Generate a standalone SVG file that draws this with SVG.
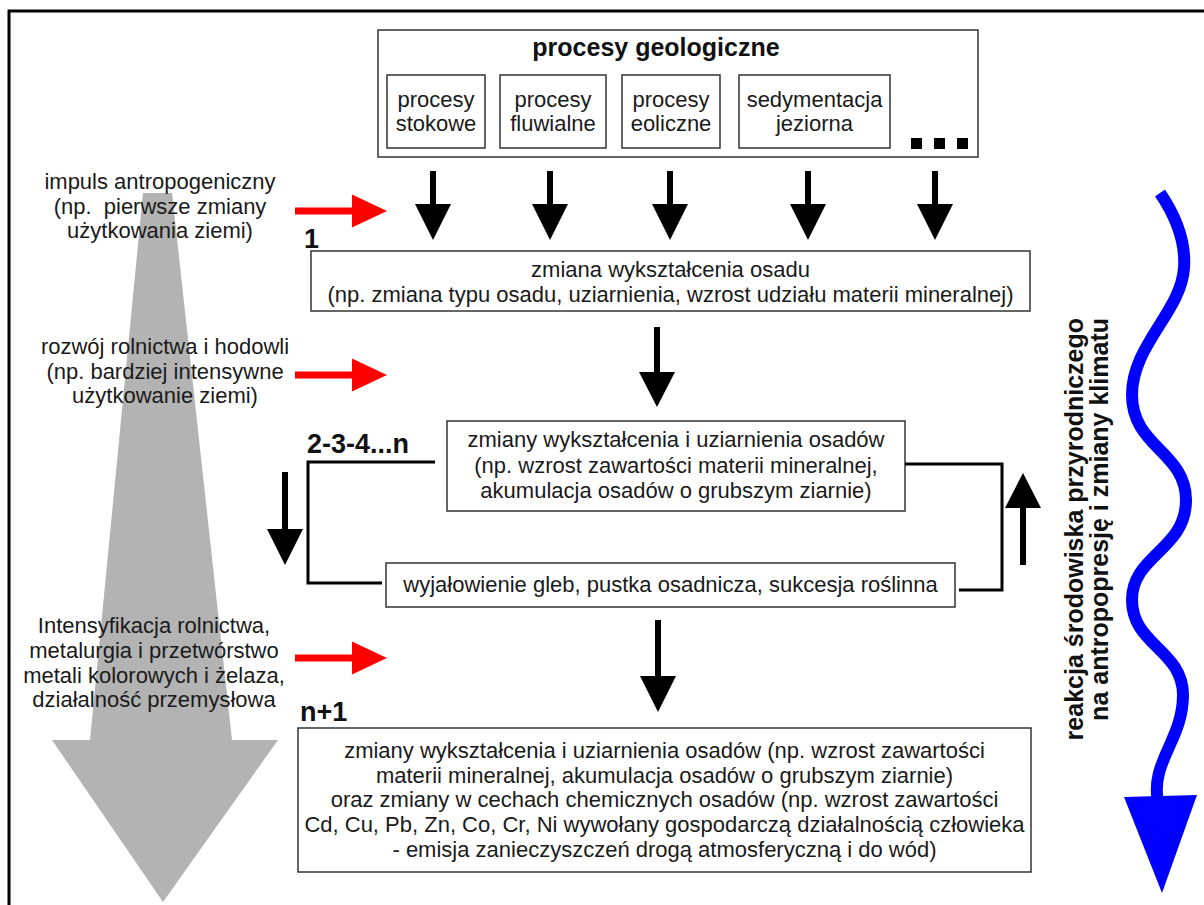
<svg xmlns="http://www.w3.org/2000/svg" width="1204" height="905" viewBox="0 0 1204 905">
<style>
.box{fill:#fff;stroke:#333;stroke-width:1.5}
.t{font-family:"Liberation Sans",Arial,sans-serif;font-size:22px;fill:#1a1a1a;text-anchor:middle}
.tb{font-family:"Liberation Sans",Arial,sans-serif;font-size:25px;font-weight:bold;fill:#111;text-anchor:middle}
.lbl{font-family:"Liberation Sans",Arial,sans-serif;font-size:27px;font-weight:bold;fill:#111}
.vt{font-family:"Liberation Sans",Arial,sans-serif;font-size:25px;font-weight:bold;fill:#111;text-anchor:end}
.ba{fill:#000}
.ra{fill:#ff0000}
.ln{fill:none;stroke:#000;stroke-width:3}
</style>
<rect x="0" y="0" width="1204" height="905" fill="#fff"/>
<path d="M9,905 V11 H1204" fill="none" stroke="#000" stroke-width="3"/>

<g id="gray-arrow">
<polygon points="143,193 172,193 232,740 278,740 163,902 52,740 90,740" fill="#b3b3b3"/>
</g>

<g id="left-texts">
<g id="impuls">
<text class="t" x="160" y="189">impuls antropogeniczny</text>
<text class="t" x="160" y="214" xml:space="preserve">(np.  pierwsze zmiany</text>
<text class="t" x="160" y="238">użytkowania ziemi)</text>
</g>
<g id="rozwoj">
<text class="t" x="165" y="354">rozwój rolnictwa i hodowli</text>
<text class="t" x="165" y="379">(np. bardziej intensywne</text>
<text class="t" x="165" y="403">użytkowanie ziemi)</text>
</g>
<g id="intensyfikacja">
<text class="t" x="154" y="633">Intensyfikacja rolnictwa,</text>
<text class="t" x="154" y="658">metalurgia i przetwórstwo</text>
<text class="t" x="154" y="683">metali kolorowych i żelaza,</text>
<text class="t" x="154" y="707">działalność przemysłowa</text>
</g>
</g>

<g id="procesy-geologiczne">
<rect class="box" x="378" y="30" width="600" height="127"/>
<text class="tb" x="656" y="56">procesy geologiczne</text>
<g id="stokowe">
<rect class="box" x="387" y="75" width="98" height="73"/>
<text class="t" x="436" y="107">procesy</text>
<text class="t" x="436" y="131">stokowe</text>
</g>
<g id="fluwialne">
<rect class="box" x="500" y="75" width="106" height="73"/>
<text class="t" x="553" y="107">procesy</text>
<text class="t" x="553" y="131">fluwialne</text>
</g>
<g id="eoliczne">
<rect class="box" x="622" y="75" width="98" height="73"/>
<text class="t" x="671" y="107">procesy</text>
<text class="t" x="671" y="131">eoliczne</text>
</g>
<g id="jeziorna">
<rect class="box" x="739" y="75" width="151" height="73"/>
<text class="t" x="814.5" y="107">sedymentacja</text>
<text class="t" x="814.5" y="131">jeziorna</text>
</g>
<g id="dots" fill="#000">
<rect x="911" y="138" width="11" height="11"/>
<rect x="934" y="138" width="11" height="11"/>
<rect x="957" y="138" width="11" height="11"/>
</g>
</g>

<g id="zmiana-osadu">
<rect class="box" x="311" y="251" width="719" height="60"/>
<text class="t" x="670.5" y="277">zmiana wykształcenia osadu</text>
<text class="t" x="670.5" y="302">(np. zmiana typu osadu, uziarnienia, wzrost udziału materii mineralnej)</text>
</g>

<g id="zmiany-osadow">
<rect class="box" x="447" y="421" width="458" height="90"/>
<text class="t" x="676" y="447">zmiany wykształcenia i uziarnienia osadów</text>
<text class="t" x="676" y="473">(np. wzrost zawartości materii mineralnej,</text>
<text class="t" x="676" y="498">akumulacja osadów o grubszym ziarnie)</text>
</g>

<g id="wyjalowienie">
<rect class="box" x="386" y="563" width="569" height="44"/>
<text class="t" x="670.5" y="592">wyjałowienie gleb, pustka osadnicza, sukcesja roślinna</text>
</g>

<g id="zmiany-chemiczne">
<rect class="box" x="298" y="728" width="733" height="144"/>
<text class="t" x="664.5" y="758">zmiany wykształcenia i uziarnienia osadów (np. wzrost zawartości</text>
<text class="t" x="664.5" y="783">materii mineralnej, akumulacja osadów o grubszym ziarnie)</text>
<text class="t" x="664.5" y="807">oraz zmiany w cechach chemicznych osadów (np. wzrost zawartości</text>
<text class="t" x="664.5" y="832">Cd, Cu, Pb, Zn, Co, Cr, Ni wywołany gospodarczą działalnością człowieka</text>
<text class="t" x="664.5" y="857">- emisja zanieczyszczeń drogą atmosferyczną i do wód)</text>
</g>

<g id="labels">
<text class="lbl" x="304" y="248">1</text>
<text class="lbl" x="307" y="453">2-3-4...n</text>
<text class="lbl" x="300" y="721">n+1</text>
</g>

<g id="reakcja">
<text class="vt" transform="translate(1083,318) rotate(-90)">reakcja środowiska przyrodniczego</text>
<text class="vt" transform="translate(1108,318) rotate(-90)">na antropopresję i zmiany klimatu</text>
<path d="M1160,193 C1175,215 1186,240 1184,268 C1181,312 1132,345 1132,395 C1132,447 1186,452 1186,500 C1186,550 1132,555 1132,600 C1132,645 1183,650 1183,695 C1183,740 1150,762 1158,802" fill="none" stroke="#0000ff" stroke-width="12"/>
<polygon points="1124,797 1197,795 1162,893" fill="#0000ff"/>
</g>

<g id="connectors">
<path class="ra" d="M295,207.5 H352 V194.5 L387,211 L352,227.5 V214.5 H295 Z"/>
<path class="ra" d="M295,371.5 H352 V358.5 L387,375 L352,391.5 V378.5 H295 Z"/>
<path class="ra" d="M295,654.5 H352 V641.5 L387,658 L352,674.5 V661.5 H295 Z"/>
<path class="ba" d="M430,171 h6 v33 h15 l-18,36 l-18,-36 h15 z"/>
<path class="ba" d="M547,171 h6 v33 h15 l-18,36 l-18,-36 h15 z"/>
<path class="ba" d="M667,171 h6 v33 h15 l-18,36 l-18,-36 h15 z"/>
<path class="ba" d="M805,171 h6 v33 h15 l-18,36 l-18,-36 h15 z"/>
<path class="ba" d="M932,171 h6 v33 h15 l-18,36 l-18,-36 h15 z"/>
<path class="ba" d="M654,327 h6 v45 h15 l-18,35 l-18,-35 h15 z"/>
<path class="ba" d="M655,620 h6 v56 h15 l-18,36 l-18,-36 h15 z"/>
<path class="ba" d="M282,472 h6 v57 h15 l-18,36 l-18,-36 h15 z"/>
<path class="ba" d="M1020,565 h6 v-57 h15 l-18,-35 l-18,35 h15 z"/>
<path class="ln" d="M435,462 H308 V583 H382"/>
<path class="ln" d="M905,464 H1002 V590 H959"/>
</g>
</svg>
